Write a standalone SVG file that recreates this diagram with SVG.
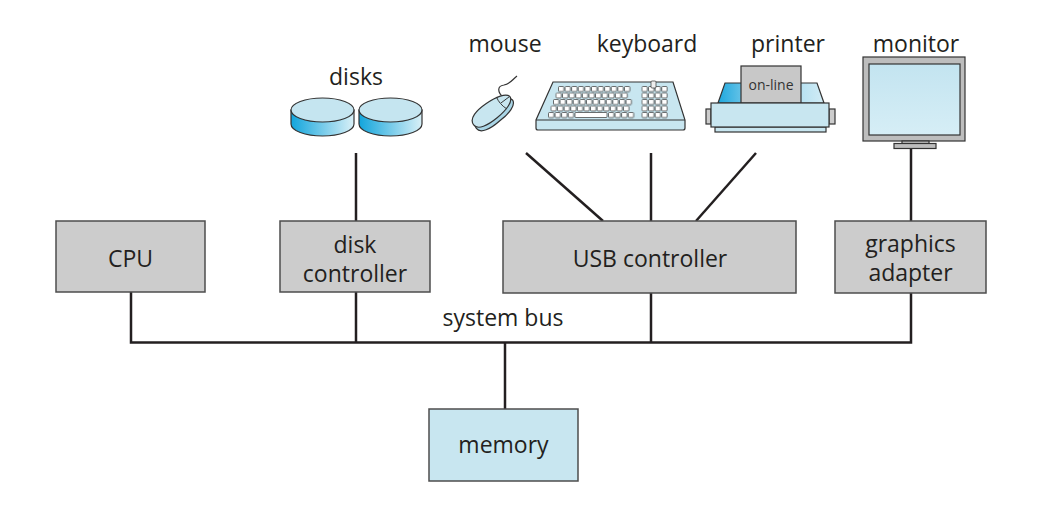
<svg xmlns="http://www.w3.org/2000/svg" width="1037" height="508" viewBox="0 0 1037 508">
<style>
.t{font-family:"Open Sans","Noto Sans","Liberation Sans",sans-serif;font-size:23px;fill:#231f20;text-anchor:middle}
.box{fill:#cccccc;stroke:#4d4d4d;stroke-width:1.5}
.mem{fill:#c8e6f0;stroke:#4d4d4d;stroke-width:1.5}
.ln{fill:none;stroke:#231f20;stroke-width:2.5}
.ol{stroke:#333;stroke-width:1.2}
</style>
<defs>
<linearGradient id="side" x1="0" x2="1" y1="0" y2="0">
<stop offset="0" stop-color="#12a5dc"/>
<stop offset="1" stop-color="#d9f0f7"/>
</linearGradient>
<linearGradient id="ptr" x1="0" x2="1" y1="0" y2="0">
<stop offset="0" stop-color="#1ea8de"/>
<stop offset="0.3" stop-color="#7ccbea"/>
<stop offset="1" stop-color="#d2ecf5"/>
</linearGradient>
<linearGradient id="scr" x1="0" x2="0" y1="0" y2="1">
<stop offset="0" stop-color="#c3e4f0"/>
<stop offset="1" stop-color="#d6eef6"/>
</linearGradient>
<pattern id="keys" patternUnits="userSpaceOnUse" width="6.6" height="6.5">
<rect x="0.5" y="0.5" width="5.3" height="5" rx="0.8" fill="#fff" stroke="#333" stroke-width="0.7"/>
</pattern>
<g id="disk">
<path d="M0,0 V14 A31.5,12 0 0 0 63,14 V0 Z" fill="url(#side)" class="ol"/>
<ellipse cx="31.5" cy="0" rx="31.5" ry="12" fill="#c5e5f0" class="ol"/>
</g>
</defs>

<g id="connectors">
<line class="ln" x1="356" y1="153" x2="356" y2="221"/>
<line class="ln" x1="526" y1="153" x2="603" y2="221"/>
<line class="ln" x1="651" y1="153" x2="651" y2="221"/>
<line class="ln" x1="756" y1="153" x2="696" y2="221"/>
<line class="ln" x1="911" y1="149" x2="911" y2="221"/>
<polyline class="ln" points="131,292 131,342.5 911,342.5 911,293"/>
<line class="ln" x1="356" y1="292" x2="356" y2="342.5"/>
<line class="ln" x1="651" y1="293" x2="651" y2="342.5"/>
<line class="ln" x1="505" y1="342.5" x2="505" y2="409"/>
<text class="t" x="503" y="326">system bus</text>
</g>

<g id="cpu">
<rect class="box" x="56" y="221" width="149" height="71"/>
<text class="t" x="130.5" y="267">CPU</text>
</g>

<g id="disk-controller">
<rect class="box" x="280" y="221" width="150" height="71"/>
<text class="t" x="355" y="252.5">disk</text>
<text class="t" x="355" y="281.5">controller</text>
</g>

<g id="usb-controller">
<rect class="box" x="503" y="221" width="293" height="72"/>
<text class="t" x="650" y="267">USB controller</text>
</g>

<g id="graphics-adapter">
<rect class="box" x="835" y="221" width="151" height="72"/>
<text class="t" x="910.5" y="252">graphics</text>
<text class="t" x="910.5" y="281">adapter</text>
</g>

<g id="memory">
<rect class="mem" x="429" y="409" width="149" height="72"/>
<text class="t" x="503.5" y="453">memory</text>
</g>

<g id="disks">
<text class="t" x="356" y="85">disks</text>
<use href="#disk" x="291" y="110"/>
<use href="#disk" x="359" y="110"/>
</g>

<g id="mouse">
<text class="t" x="505" y="52">mouse</text>
<path d="M504,98 C497,92 497,86 504,85 C510,84 512,80 517,76" fill="none" stroke="#333" stroke-width="1.2"/>
<g transform="translate(492,111) rotate(-37)">
<path d="M-23,2 C-23,-6 -12,-10 0,-9 C12,-8 22,-6 23,1 C23,7 12,10 0,10 C-12,11 -23,9 -23,2 Z" fill="#a9d5e6" class="ol" transform="translate(0,2.5)"/>
<path d="M-23,0 C-23,-8 -12,-10 0,-9.5 C12,-9 22,-6 23,-1 C23,5 12,8 0,8.5 C-12,9 -23,7 -23,0 Z" fill="#c8e6f0" class="ol"/>
<path d="M12,-8.5 Q10,-1 13,7" fill="none" stroke="#333" stroke-width="0.9"/>
<path d="M12,-1 H22.5" fill="none" stroke="#333" stroke-width="0.9"/>
</g>
</g>

<g id="keyboard">
<text class="t" x="647" y="52">keyboard</text>
<path d="M553,82 H673 L685,120 V128 Q685,130 683,130 H538 Q536,130 536,128 V120 Z" fill="#c8e6f0" class="ol"/>
<line x1="536" y1="120" x2="685" y2="120" class="ol"/>
<g transform="translate(558,86)"><rect width="72.6" height="6.5" fill="url(#keys)"/></g>
<g transform="translate(555.5,92.5)"><rect width="72.6" height="6.5" fill="url(#keys)"/></g>
<g transform="translate(553,99)"><rect width="79.2" height="6.5" fill="url(#keys)"/></g>
<g transform="translate(550.5,105.5)"><rect width="79.2" height="6.5" fill="url(#keys)"/></g>
<g transform="translate(548,112)"><rect width="26.4" height="6.5" fill="url(#keys)"/></g>
<rect x="575" y="112.5" width="32" height="5" rx="0.8" fill="#fff" stroke="#333" stroke-width="0.7"/>
<g transform="translate(608,112)"><rect width="26.4" height="6.5" fill="url(#keys)"/></g>
<g transform="translate(641.5,86)"><rect width="26.4" height="6.5" fill="url(#keys)"/></g>
<g transform="translate(641.5,92.5)"><rect width="26.4" height="6.5" fill="url(#keys)"/></g>
<g transform="translate(641.5,99)"><rect width="26.4" height="6.5" fill="url(#keys)"/></g>
<g transform="translate(641.5,105.5)"><rect width="26.4" height="6.5" fill="url(#keys)"/></g>
<g transform="translate(641.5,112)"><rect width="26.4" height="6.5" fill="url(#keys)"/></g>
<rect x="651" y="81" width="5" height="7" rx="1" fill="#eee" stroke="#333" stroke-width="0.7"/>
</g>

<g id="printer">
<text class="t" x="788" y="52">printer</text>
<path d="M725,83 H817 L824,103 H718 Z" fill="url(#ptr)" class="ol"/>
<rect x="741" y="66" width="60" height="37" fill="#c8c8c8" class="ol"/>
<text x="771" y="90" font-family="Open Sans,Noto Sans,Liberation Sans,sans-serif" font-size="14" fill="#333" text-anchor="middle">on-line</text>
<rect x="706" y="109" width="5" height="15" fill="#cccccc" class="ol"/>
<rect x="829" y="109" width="6" height="15" fill="#cccccc" class="ol"/>
<rect x="715" y="127" width="111" height="5" fill="#c8e6f0" class="ol"/>
<rect x="711" y="103" width="118" height="24" fill="#c8e6f0" class="ol"/>
</g>

<g id="monitor">
<text class="t" x="916" y="52">monitor</text>
<rect x="863" y="57" width="102" height="84" fill="#bdbdbd" class="ol"/>
<rect x="869" y="64" width="91" height="71" fill="url(#scr)" class="ol"/>
<rect x="902" y="141" width="27" height="3" fill="#bdbdbd" class="ol"/>
<rect x="894" y="143.5" width="42" height="5" fill="#bdbdbd" class="ol"/>
</g>
</svg>
